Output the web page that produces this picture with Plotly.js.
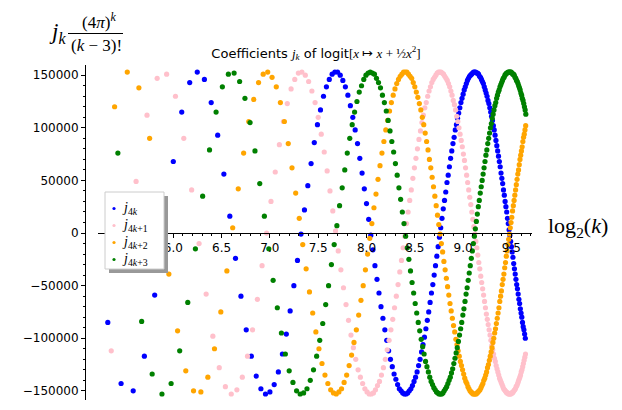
<!DOCTYPE html>
<html>
<head>
<meta charset="utf-8">
<script src="https://cdn.plot.ly/plotly-3.0.1.min.js"></script>
<style>
html,body{margin:0;padding:0;background:#fff;}
#chart{width:622px;height:410px;}
</style>
</head>
<body>
<div id="chart"></div>
<script>
// ---------------- data ----------------
// each series holds k = kStart, kStart+4, kStart+8, ... ; x = log2(k)
const kStart = [40, 41, 42, 43];
const kStep = 4;
const seriesLabels = [
  '<i>j</i><sub>4<i>k</i></sub>',
  '<i>j</i><sub>4<i>k</i>+1</sub>',
  '<i>j</i><sub>4<i>k</i>+2</sub>',
  '<i>j</i><sub>4<i>k</i>+3</sub>'
];
const seriesColors = ['#0000ff', '#ffc0cb', '#ffa500', '#008000'];
const xTickVals = [6.0, 6.5, 7.0, 7.5, 8.0, 8.5, 9.0, 9.5];

const j4k = [-85e3,-143e3,-150e3,-117e3,-59e3,8e3,68e3,115e3,143e3,153e3,146e3,124e3,93e3,56e3,16e3,-24e3,
-60e3,-92e3,-117e3,-136e3,-148e3,-153e3,-151e3,-144e3,-132e3,-115e3,-96e3,-74e3,-50e3,-26e3,-1e3,22e3,45e3,66e3,86e3,103e3,117e3,130e3,139e3,146e3,151e3,
153e3,153e3,150e3,145e3,139e3,131e3,121e3,110e3,98e3,85e3,71e3,57e3,42e3,28e3,13e3,-2e3,-16e3,-31e3,-44e3,-57e3,-70e3,-81e3,-92e3,-102e3,-112e3,
-120e3,-127e3,-134e3,-139e3,-144e3,-148e3,-150e3,-152e3,-153e3,-153e3,-152e3,-150e3,-148e3,-145e3,-141e3,-137e3,-132e3,-126e3,-120e3,-113e3,-106e3,-99e3,-91e3,-83e3,-75e3,
-66e3,-57e3,-49e3,-40e3,-31e3,-22e3,-13e3,-4e3,5e3,14e3,23e3,31e3,39e3,48e3,55e3,63e3,71e3,78e3,85e3,91e3,98e3,103e3,109e3,114e3,119e3,
124e3,128e3,132e3,136e3,139e3,142e3,145e3,147e3,149e3,150e3,151e3,152e3,153e3,153e3,153e3,152e3,152e3,151e3,149e3,148e3,146e3,144e3,142e3,139e3,136e3,
133e3,130e3,126e3,123e3,119e3,115e3,111e3,107e3,102e3,98e3,93e3,88e3,83e3,78e3,73e3,68e3,63e3,57e3,52e3,47e3,41e3,36e3,30e3,25e3,20e3,
14e3,9e3,3e3,-2e3,-8e3,-13e3,-18e3,-23e3,-29e3,-34e3,-39e3,-44e3,-49e3,-53e3,-58e3,-63e3,-67e3,-72e3,-76e3,-80e3,-85e3,-89e3,-92e3,-96e3,-100e3];

const j4k1 = [-112e3,-34e3,49e3,112e3,147e3,151e3,130e3,90e3,41e3,-10e3,-58e3,-98e3,-128e3,-146e3,-153e3,
-149e3,-137e3,-117e3,-92e3,-63e3,-31e3,0,30e3,58e3,84e3,106e3,123e3,137e3,146e3,152e3,153e3,150e3,144e3,135e3,124e3,110e3,94e3,77e3,59e3,40e3,
21e3,2e3,-17e3,-35e3,-52e3,-68e3,-83e3,-97e3,-109e3,-120e3,-130e3,-137e3,-143e3,-148e3,-151e3,-153e3,-153e3,-152e3,-149e3,-145e3,-141e3,-135e3,-128e3,-120e3,-111e3,
-102e3,-92e3,-82e3,-71e3,-60e3,-49e3,-37e3,-26e3,-14e3,-3e3,9e3,20e3,31e3,41e3,52e3,62e3,71e3,80e3,89e3,97e3,105e3,112e3,119e3,124e3,130e3,
135e3,139e3,143e3,146e3,148e3,150e3,152e3,153e3,153e3,153e3,152e3,151e3,149e3,147e3,145e3,142e3,139e3,135e3,131e3,126e3,122e3,117e3,111e3,106e3,100e3,
94e3,88e3,82e3,75e3,69e3,62e3,55e3,48e3,41e3,34e3,27e3,20e3,13e3,6e3,-1e3,-8e3,-14e3,-21e3,-28e3,-34e3,-41e3,-47e3,-53e3,-59e3,-65e3,
-71e3,-77e3,-82e3,-87e3,-92e3,-97e3,-102e3,-107e3,-111e3,-115e3,-119e3,-122e3,-126e3,-129e3,-132e3,-135e3,-138e3,-140e3,-142e3,-144e3,-146e3,-148e3,-149e3,-150e3,-151e3,
-152e3,-152e3,-153e3,-153e3,-153e3,-153e3,-152e3,-152e3,-151e3,-150e3,-149e3,-148e3,-146e3,-145e3,-143e3,-141e3,-139e3,-137e3,-135e3,-132e3,-130e3,-127e3,-124e3,-121e3,-118e3,-115e3];

const j4k2 = [120e3,153e3,138e3,90e3,26e3,-39e3,-93e3,-131e3,-150e3,-151e3,-137e3,-110e3,-75e3,-36e3,5e3,
42e3,76e3,106e3,127e3,143e3,151e3,153e3,148e3,139e3,124e3,106e3,85e3,62e3,38e3,14e3,-11e3,-34e3,-56e3,-76e3,-94e3,-110e3,-124e3,-135e3,-143e3,-149e3,
-152e3,-153e3,-151e3,-148e3,-142e3,-135e3,-126e3,-116e3,-104e3,-92e3,-78e3,-64e3,-50e3,-35e3,-20e3,-5e3,9e3,24e3,37e3,51e3,64e3,76e3,87e3,98e3,107e3,
116e3,124e3,131e3,137e3,142e3,146e3,149e3,151e3,153e3,153e3,153e3,151e3,149e3,147e3,143e3,139e3,134e3,129e3,123e3,117e3,110e3,103e3,95e3,87e3,79e3,
70e3,62e3,53e3,44e3,35e3,26e3,17e3,8e3,-1e3,-10e3,-18e3,-27e3,-35e3,-43e3,-51e3,-59e3,-67e3,-74e3,-81e3,-88e3,-94e3,-101e3,-106e3,-112e3,-117e3,
-122e3,-126e3,-130e3,-134e3,-138e3,-141e3,-143e3,-146e3,-148e3,-150e3,-151e3,-152e3,-153e3,-153e3,-153e3,-153e3,-152e3,-151e3,-150e3,-149e3,-147e3,-145e3,-143e3,-140e3,-138e3,
-135e3,-132e3,-128e3,-125e3,-121e3,-117e3,-113e3,-109e3,-104e3,-100e3,-95e3,-91e3,-86e3,-81e3,-76e3,-71e3,-65e3,-60e3,-55e3,-49e3,-44e3,-39e3,-33e3,-28e3,-22e3,
-17e3,-11e3,-6e3,-1e3,5e3,10e3,15e3,21e3,26e3,31e3,36e3,41e3,46e3,51e3,56e3,60e3,65e3,70e3,74e3,78e3,82e3,87e3,91e3,94e3,98e3,102e3];

const j4k3 = [76e3,-9e3,-84e3,-134e3,-153e3,-143e3,-112e3,-66e3,-15e3,35e3,79e3,115e3,139e3,151e3,152e3,
144e3,128e3,105e3,78e3,47e3,16e3,-15e3,-45e3,-71e3,-95e3,-115e3,-131e3,-142e3,-150e3,-153e3,-152e3,-148e3,-140e3,-130e3,-117e3,-102e3,-86e3,-68e3,-50e3,-30e3,
-11e3,7e3,26e3,43e3,60e3,76e3,90e3,103e3,115e3,125e3,134e3,140e3,146e3,150e3,152e3,153e3,152e3,151e3,147e3,143e3,138e3,131e3,124e3,116e3,107e3,
97e3,87e3,77e3,66e3,55e3,43e3,32e3,20e3,9e3,-3e3,-14e3,-25e3,-36e3,-47e3,-57e3,-67e3,-76e3,-85e3,-93e3,-101e3,-108e3,-115e3,-122e3,-127e3,-132e3,
-137e3,-141e3,-144e3,-147e3,-149e3,-151e3,-152e3,-153e3,-153e3,-153e3,-152e3,-150e3,-148e3,-146e3,-143e3,-140e3,-137e3,-133e3,-129e3,-124e3,-119e3,-114e3,-109e3,-103e3,-97e3,
-91e3,-85e3,-78e3,-72e3,-65e3,-58e3,-52e3,-45e3,-38e3,-31e3,-24e3,-17e3,-10e3,-3e3,4e3,11e3,18e3,25e3,31e3,38e3,44e3,50e3,56e3,62e3,68e3,
74e3,79e3,85e3,90e3,95e3,100e3,104e3,109e3,113e3,117e3,121e3,124e3,128e3,131e3,134e3,136e3,139e3,141e3,143e3,145e3,147e3,148e3,150e3,151e3,152e3,
152e3,153e3,153e3,153e3,153e3,153e3,152e3,151e3,151e3,150e3,148e3,147e3,145e3,144e3,142e3,140e3,138e3,136e3,133e3,131e3,128e3,126e3,123e3,120e3,117e3,113e3];

// ---------------- layout geometry ----------------
const W = 622, H = 410;
const L = 85, R = 90, T = 65, B = 10;
const PW = W - L - R, PH = H - T - B;
const px = x => (x - L) / PW;          // pixel -> paper x
const py = y => (H - B - y) / PH;      // pixel -> paper y
const xRange = [5.2205, 9.713];
const yRange = [-158700, 159700];
const zeroPos = (0 - yRange[0]) / (yRange[1] - yRange[0]);

const seriesValues = [j4k, j4k1, j4k2, j4k3];
const traces = seriesValues.map((vals, s) => ({
  type: 'scatter',
  mode: 'markers',
  x: vals.map((_, i) => Math.log2(kStart[s] + kStep * i)),
  y: vals,
  name: seriesLabels[s],
  marker: {color: seriesColors[s], size: 5.2, line: {width: 0}},
  hoverinfo: 'skip',
  showlegend: false
}));

const tickFont = {family: 'DejaVu Sans', size: 12, color: '#000'};
const mathFont = 'Liberation Serif';

const legendRows = [208.5, 225.5, 242.5, 259.5];
const shapes = [
  {type: 'rect', xref: 'paper', yref: 'paper', x0: px(109), x1: px(168), y0: py(196), y1: py(273),
   fillcolor: '#999999', line: {width: 0}, layer: 'above'},
  {type: 'rect', xref: 'paper', yref: 'paper', x0: px(105), x1: px(164), y0: py(192), y1: py(269),
   fillcolor: '#ffffff', line: {color: '#cccccc', width: 1}, layer: 'above'},
  {type: 'line', xref: 'paper', yref: 'paper', x0: px(68), x1: px(123), y0: py(33.5), y1: py(33.5),
   line: {color: '#000', width: 1}}
];
legendRows.forEach((ry, i) => shapes.push({
  type: 'circle', xref: 'paper', yref: 'paper',
  x0: px(112.4), x1: px(115.6), y0: py(ry + 1.6), y1: py(ry - 1.6),
  fillcolor: seriesColors[i], line: {width: 0}, layer: 'above'
}));

const annotations = legendRows.map((ry, i) => ({
  xref: 'paper', yref: 'paper', x: px(120), y: py(ry), xanchor: 'left', yanchor: 'middle',
  text: seriesLabels[i], showarrow: false, font: {family: mathFont, size: 14, color: '#000'}
}));
annotations.push(
  {xref: 'paper', yref: 'paper', x: px(57), y: py(33), xanchor: 'center', yanchor: 'middle',
   text: '<i>j</i><sub><i>k</i></sub>', showarrow: false, font: {family: mathFont, size: 23, color: '#000'}},
  {xref: 'paper', yref: 'paper', x: px(99), y: py(21), xanchor: 'center', yanchor: 'middle',
   text: '(4<i>π</i>)<sup><i>k</i></sup>', showarrow: false, font: {family: mathFont, size: 17, color: '#000'}},
  {xref: 'paper', yref: 'paper', x: px(96), y: py(45), xanchor: 'center', yanchor: 'middle',
   text: '(<i>k</i> − 3)!', showarrow: false, font: {family: mathFont, size: 17, color: '#000'}},
  {xref: 'paper', yref: 'paper', x: px(578), y: py(227), xanchor: 'center', yanchor: 'middle',
   text: 'log<sub>2</sub>(<i>k</i>)', showarrow: false, font: {family: mathFont, size: 22, color: '#000'}}
);

const layout = {
  width: W, height: H,
  margin: {l: L, r: R, t: T, b: B, pad: 0},
  paper_bgcolor: '#ffffff', plot_bgcolor: '#ffffff',
  showlegend: false,
  title: {
    text: 'Coefficients <span style="font-family:Liberation Serif"><i>j</i><sub><i>k</i></sub></span> of logit<span style="font-family:Liberation Serif">[<i>x</i> ↦ <i>x</i> + ½<i>x</i><sup>2</sup>]</span>',
    font: {family: 'DejaVu Sans', size: 13, color: '#000'},
    xref: 'container', yref: 'container', x: 316 / W, y: 1 - 53 / H,
    xanchor: 'center', yanchor: 'middle'
  },
  xaxis: {
    domain: [px(98), 1], range: xRange, anchor: 'free', position: zeroPos,
    showline: true, linecolor: '#000', linewidth: 1,
    ticks: 'outside', ticklen: 4, tickwidth: 1, tickcolor: '#000',
    tickmode: 'array', tickvals: xTickVals, tickformat: '.1f', tickfont: tickFont,
    showgrid: false, zeroline: false, fixedrange: true,
    minor: {ticks: 'outside', ticklen: 2, tickwidth: 1, tickcolor: '#000', tick0: 0, dtick: 0.1, showgrid: false}
  },
  yaxis: {
    domain: [0, 1], range: yRange, anchor: 'free', position: 0,
    showline: true, linecolor: '#000', linewidth: 1,
    ticks: 'outside', ticklen: 4, tickwidth: 1, tickcolor: '#000',
    tick0: 0, dtick: 50000, tickformat: 'd', tickfont: tickFont,
    showgrid: false, zeroline: false, fixedrange: true,
    minor: {ticks: 'outside', ticklen: 2, tickwidth: 1, tickcolor: '#000', tick0: 0, dtick: 10000, showgrid: false}
  },
  shapes: shapes,
  annotations: annotations
};

Plotly.newPlot('chart', traces, layout, {staticPlot: true, displayModeBar: false});
</script>
</body>
</html>
